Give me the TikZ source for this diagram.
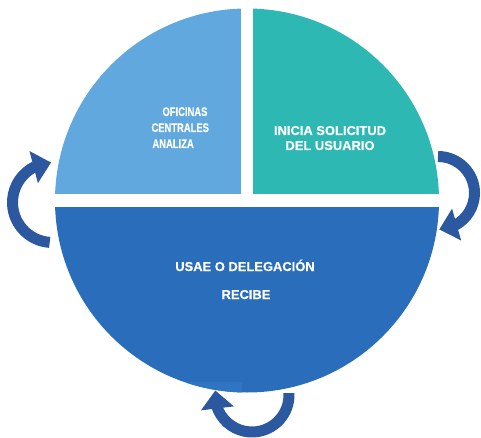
\documentclass[tikz,border=0pt]{standalone}
\usepackage{fontspec}
\setmainfont{Liberation Sans}
\newfontfamily\rotulofont[FakeBold=0.4]{Liberation Sans}
\newfontfamily\narrowfont[FakeStretch=0.75,FakeBold=0.4]{Liberation Sans}
\usepackage{tikz}
\usetikzlibrary{arrows.meta}
\usetikzlibrary{bending}
\definecolor{azulclaro}{RGB}{96,168,221}
\definecolor{turquesa}{RGB}{46,184,180}
\definecolor{azulmedio}{RGB}{42,110,187}
\definecolor{azulbrillo}{RGB}{47,117,193}
\definecolor{azulflecha}{RGB}{44,88,160}
\tikzset{every picture/.style={line width=0.75pt},
  flecha/.style={draw=azulflecha, line width=8.25pt, -{Triangle[width=24pt,length=13.5pt,flex]}},
  texto/.style={inner sep=0pt, text=white, font=\rotulofont\bfseries\fontsize{9.7}{11}\selectfont},
  textoangosto/.style={inner sep=0pt, text=white, font=\narrowfont\bfseries\fontsize{9.4}{11}\selectfont}}

\begin{document}
\begin{tikzpicture}[x=0.75pt,y=0.75pt,yscale=-1,xscale=1]
\useasboundingbox (0,0) rectangle (481,438);

%Shape: Circle split in three pieces
\begin{scope}
\clip (247,200.5) circle (192);
\fill [azulclaro] (0,0) rectangle (241,194);
\fill [turquesa] (253,0) rectangle (481,194);
\fill [azulmedio] (0,207) rectangle (481,438);
\fill [azulbrillo] (187,382) rectangle (242,400);
\end{scope}

%Curve Lines (left)
\draw [flecha] (52.5,202.5) ++(94:40) arc (94:268:40);
%Curve Lines (right)
\draw [flecha] (438,193) ++(-90:36.5) arc (-90:88:36.5);
%Curve Lines (bottom)
\draw [flecha] (252,395) ++(-3:37) arc (-3:187:37);

% Text Node
\draw (162,116) node (oficinas) [anchor=base west][textoangosto] {OFICINAS};
% Text Node
\draw (151,132) node (centrales) [anchor=base west][textoangosto] {CENTRALES};
% Text Node
\draw (152,148) node (analiza) [anchor=base west][textoangosto] {ANALIZA};
% Text Node
\draw (330,135) node (inicia) [anchor=base][texto] {INICIA SOLICITUD};
% Text Node
\draw (330,150) node (usuario) [anchor=base][texto] {DEL USUARIO};
% Text Node
\draw (245,271) node (usae) [anchor=base][texto] {USAE O DELEGACIÓN};
% Text Node
\draw (246,299) node (recibe) [anchor=base][texto] {RECIBE};

\end{tikzpicture}
\end{document}
